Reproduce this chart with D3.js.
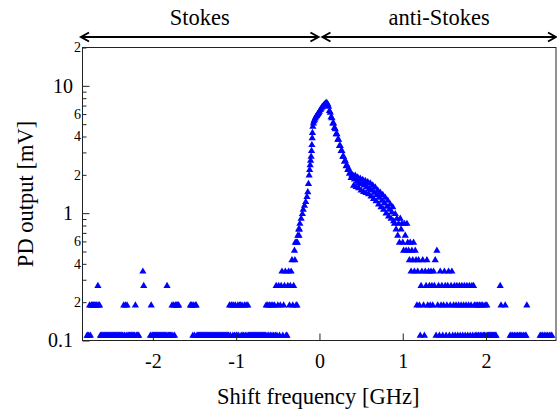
<!DOCTYPE html>
<html><head><meta charset="utf-8">
<script src="https://cdn.jsdelivr.net/npm/d3@7"></script>
<style>
body{margin:0;background:#fff}
svg{display:block}
</style>
</head><body>
<svg id="chart" width="557" height="414"></svg>
<script>
// ---- data ----
const shiftGHz = [
  // Stokes side noise floor
  -2.79,-2.78,-2.77,-2.76,-2.75,-2.74,-2.73,-2.72,-2.71,-2.70,-2.69,-2.68,-2.67,-2.66,-2.65,-2.64,-2.63,
  -2.62,-2.61,-2.60,-2.59,-2.58,-2.57,-2.56,-2.55,-2.54,-2.53,
  -2.52,-2.51,-2.50,-2.49,-2.48,-2.47,-2.46,-2.45,-2.44,-2.43,
  -2.42,-2.41,-2.40,-2.39,-2.38,-2.37,-2.36,-2.35,-2.34,-2.33,
  -2.32,-2.31,-2.30,-2.29,-2.28,-2.27,-2.26,-2.25,-2.24,-2.23,
  -2.22,-2.21,-2.20,-2.19,-2.18,-2.17,
  -2.12,-2.11,
  -2.03,-2.02,-2.01,-2.00,-1.99,-1.98,-1.97,-1.96,-1.95,-1.94,
  -1.93,-1.92,-1.91,-1.90,-1.89,-1.88,-1.87,-1.86,-1.85,-1.84,
  -1.83,-1.82,-1.81,-1.80,-1.79,-1.78,-1.77,-1.76,-1.75,-1.74,
  -1.73,-1.72,-1.71,-1.70,-1.69,
  -1.55,-1.54,-1.53,-1.52,-1.51,-1.50,-1.49,-1.48,-1.47,-1.46,
  -1.45,-1.44,-1.43,-1.42,-1.41,-1.40,-1.39,-1.38,-1.37,-1.36,
  -1.35,-1.34,-1.33,-1.32,-1.31,-1.30,-1.29,-1.28,-1.27,-1.26,
  -1.25,-1.24,-1.23,-1.22,-1.21,-1.20,-1.19,-1.18,-1.17,-1.16,
  -1.15,-1.14,-1.13,-1.12,-1.11,-1.10,-1.09,
  -1.08,-1.07,-1.06,-1.05,-1.04,-1.03,-1.02,-1.01,-1.00,-0.99,
  -0.98,-0.97,-0.96,-0.95,-0.94,-0.93,-0.92,-0.91,-0.90,-0.89,
  -0.88,-0.87,-0.86,
  -0.85,-0.84,-0.83,-0.82,-0.81,-0.80,-0.79,-0.78,-0.77,-0.76,
  -0.75,-0.74,-0.73,-0.72,-0.71,-0.70,-0.69,-0.68,-0.67,-0.66,
  -0.65,
  -0.64,-0.63,-0.62,-0.61,-0.60,-0.59,-0.58,-0.57,-0.56,-0.55,
  -0.54,-0.53,-0.52,-0.51,-0.50,-0.49,-0.48,-0.47,-0.46,-0.45,
  -0.44,-0.43,-0.42,-0.41,-0.40,-0.39,-0.38,-0.37,-0.36,-0.35,
  -0.34,-0.33,-0.32,-0.31,-0.30,-0.295,-0.29,-0.28,-0.275,-0.27,
  -0.265,-0.26,-0.25,-0.245,-0.24,
  // rising edge and peak
  -0.235,-0.22,-0.205,-0.195,-0.18,-0.165,-0.15,-0.14,-0.132,-0.124,
  -0.118,-0.112,-0.106,-0.1,-0.095,-0.091,-0.087,-0.084,-0.079,-0.072,
  -0.065,-0.058,-0.05,-0.042,-0.034,-0.026,-0.018,-0.01,0,0.01,
  0.02,0.03,0.04,0.05,0.06,0.07,0.08,0.09,
  // anti-Stokes tail
  0.10,0.11,0.12,0.13,0.14,0.15,0.16,0.17,0.18,0.19,
  0.20,0.21,0.22,0.23,0.24,0.25,0.26,0.27,0.28,0.29,
  0.30,0.31,0.32,0.33,0.34,0.35,0.36,0.37,0.38,0.39,
  0.40,0.41,0.42,0.43,0.44,0.45,0.46,0.47,0.48,0.49,
  0.50,0.51,0.52,0.53,0.54,0.55,0.56,0.57,0.58,0.59,
  0.60,0.61,0.62,0.63,0.64,0.65,0.66,0.67,0.68,0.69,
  0.70,0.71,0.72,0.73,0.74,0.75,0.76,0.77,0.78,0.79,
  0.80,0.81,0.82,0.83,0.84,0.85,0.86,0.87,0.88,0.89,
  0.90,0.91,0.92,0.93,0.94,0.95,0.96,0.97,0.98,0.99,
  1.00,1.01,1.02,1.03,1.04,1.05,1.06,1.07,1.08,1.09,
  1.10,1.11,1.12,1.13,1.14,1.15,1.16,1.17,1.18,1.19,
  1.20,
  1.21,1.22,1.23,1.24,1.25,1.26,1.27,1.28,1.29,1.30,
  1.31,1.32,1.33,1.34,1.35,1.36,1.37,1.38,1.39,1.40,
  1.41,1.42,1.43,1.44,1.45,1.46,1.47,1.48,1.49,1.50,
  1.51,1.52,1.53,1.54,1.55,1.56,1.57,1.58,1.59,1.60,
  1.61,1.62,1.63,1.64,1.65,1.66,1.67,1.68,1.69,1.70,
  1.71,1.72,1.73,1.74,1.75,1.76,1.77,1.78,1.79,1.80,
  1.81,1.82,1.83,1.84,1.85,1.86,1.87,1.88,1.89,1.90,
  1.91,1.92,1.93,1.94,1.95,1.96,1.97,1.98,1.99,2.00,
  2.01,2.02,2.03,2.04,2.05,2.06,2.07,2.08,2.09,2.10,
  2.11,2.12,
  2.17,2.18,2.23,
  2.29,2.30,2.32,2.34,2.36,2.38,2.40,2.41,2.43,2.45,2.47,2.48,
  2.49,
  2.65,2.66,2.68,2.70,2.72,2.74,2.76,2.78,2.79
];
const pdOutputMv = [
  .11,.11,.11,.19,.11,.19,.19,.19,.19,.19,.19,.19,.19,.27,.19,.19,.11,
  .11,.11,.11,.11,.11,.11,.11,.11,.11,.11,
  .11,.11,.11,.11,.11,.11,.11,.11,.11,.11,
  .11,.11,.11,.11,.11,.11,.11,.19,.11,.19,
  .11,.19,.11,.11,.11,.11,.11,.11,.11,.11,
  .11,.19,.11,.11,.11,.11,
  .35,.27,
  .11,.19,.11,.11,.11,.11,.11,.11,.11,.11,
  .11,.11,.11,.11,.11,.11,.11,.11,.11,.11,
  .27,.11,.11,.11,.11,.11,.19,.11,.19,.11,
  .19,.19,.19,.19,.19,
  .19,.19,.19,.11,.19,.11,.19,.19,.11,.11,
  .11,.11,.11,.11,.11,.11,.11,.11,.11,.11,
  .11,.11,.11,.11,.11,.11,.11,.11,.11,.11,
  .11,.11,.11,.11,.11,.11,.11,.11,.11,.11,
  .11,.11,.11,.11,.11,.11,.11,
  .19,.11,.19,.19,.11,.19,.11,.19,.11,.11,
  .19,.11,.19,.19,.11,.19,.11,.11,.19,.11,
  .19,.11,.19,
  .11,.11,.11,.11,.11,.11,.11,.11,.11,.11,
  .11,.11,.11,.11,.11,.11,.11,.11,.11,.11,
  .11,
  .19,.11,.19,.11,.19,.11,.19,.11,.19,.11,
  .19,.11,.27,.11,.19,.27,.11,.19,.27,.35,
  .11,.19,.27,.35,.11,.11,.27,.35,.19,.27,
  .35,.43,.19,.27,.51,.43,.59,.19,.59,.19,
  .59,.67,.75,.67,.75,
  .83,.91,.99,1.07,1.15,1.23,1.35,1.47,1.71,1.99,
  2.2,2.4,2.6,2.8,3.1,3.45,3.9,4.3,4.8,5.1,
  5.3,5.45,5.6,5.75,5.85,5.95,6.05,6.15,6.3,6.5,
  6.65,6.8,6.9,7.05,7.15,7.3,7.4,7.35,
  7.2,6.9,6.4,6.2,5.7,5.6,5.1,5.1,4.7,4.6,
  4.2,4.2,3.8,3.8,3.4,3.4,3.1,3.1,2.8,2.8,
  2.55,2.6,2.35,2.4,2.2,2.25,2.05,2.1,1.9,2.0,
  2.0,1.65,1.85,1.98,1.62,1.78,1.92,1.58,1.74,1.88,
  1.52,1.7,1.84,1.48,1.66,1.8,1.45,1.62,1.76,1.42,
  1.56,1.72,1.36,1.52,1.66,1.3,1.46,1.6,1.25,1.4,
  1.52,1.18,1.33,1.46,1.12,1.26,1.4,1.07,1.2,1.33,
  1.0,1.13,1.26,.95,1.07,1.18,.91,1.02,1.12,.87,
  .83,.99,.75,.91,.67,.83,.59,.91,.75,.83,
  .59,.51,.83,.67,.51,.83,.59,.51,.43,.59,
  .35,.51,.43,.59,.35,.51,.43,.19,.35,.43,
  .19,
  .11,.27,.35,.43,.19,.11,.35,.27,.43,.19,
  .35,.27,.19,.35,.27,.19,.35,.27,.43,.11,
  .51,.19,.27,.11,.35,.19,.27,.11,.19,.35,
  .27,.11,.19,.27,.35,.11,.19,.27,.35,.11,
  .19,.27,.11,.19,.27,.11,.19,.27,.11,.19,
  .27,.11,.19,.27,.11,.19,.27,.11,.19,.27,
  .11,.19,.27,.11,.27,.19,.11,.19,.11,.19,
  .11,.19,.11,.19,.11,.19,.11,.11,.19,.11,
  .19,.11,.11,.11,.11,.11,.11,.11,.11,.11,
  .11,.11,
  .27,.19,.19,
  .11,.11,.11,.11,.11,.11,.11,.11,.11,.11,.11,.11,
  .19,
  .11,.11,.11,.11,.11,.11,.11,.11,.11
];
const xTickValues = [-2, -1, 0, 1, 2];
const yMajorTicks = [0.1, 1, 10];
const yMinorTicks = [0.2,0.3,0.4,0.5,0.6,0.7,0.8,0.9,2,3,4,5,6,7,8,9,20];
const yMinorLabels = [0.2, 0.4, 0.6, 2, 4, 6, 20];
const regionNames = ["Stokes", "anti-Stokes"];
const xTitle = "Shift frequency [GHz]";
const yTitle = "PD output [mV]";

// ---- layout ----
const SERIF = '"Liberation Serif", "Times New Roman", Times, serif';
const L = 82.5, R = 556, T = 47.5, B = 340.5;
const svg = d3.select("#chart");
const x = d3.scaleLinear().domain([-2.845, 2.84]).range([L, R]);
const y = d3.scaleLog().domain([0.1, 20]).range([B, T]);

// data markers
const pts = shiftGHz.map((s, i) => ({s, v: pdOutputMv[i]}));
svg.append("clipPath").attr("id", "clip").append("rect")
  .attr("x", L).attr("y", T).attr("width", R - L).attr("height", B - T);
svg.append("g").attr("clip-path", "url(#clip)")
  .selectAll("path").data(pts).join("path")
  .attr("d", "M0,-3.8L3.6,2.4L-3.6,2.4Z")
  .attr("fill", "#0000ff")
  .attr("transform", d => `translate(${x(d.s)},${y(d.v)})`);

// axes
const gx = svg.append("g").attr("transform", `translate(0,${B})`)
  .call(d3.axisBottom(x).tickValues(xTickValues).tickSize(-7).tickPadding(13)
    .tickFormat(d => String(d)));
gx.select(".domain").remove();
gx.selectAll("text").style("font-size", "20px").style("font-family", SERIF).style("fill", "#000");

const gyMaj = svg.append("g").attr("transform", `translate(${L},0)`)
  .call(d3.axisLeft(y).tickValues(yMajorTicks).tickSize(-7).tickPadding(9.5)
    .tickFormat(d => String(d)));
gyMaj.select(".domain").remove();
gyMaj.selectAll("text").style("font-size", "20px").style("font-family", SERIF).style("fill", "#000");

const gyMin = svg.append("g").attr("transform", `translate(${L},0)`)
  .call(d3.axisLeft(y).tickValues(yMinorTicks).tickSize(-4).tickPadding(1.5)
    .tickFormat(d => yMinorLabels.includes(d) ? String(Math.round(d / Math.pow(10, Math.floor(Math.log10(d) + 1e-9)))) : ""));
gyMin.select(".domain").remove();
gyMin.selectAll("text").style("font-size", "14px").style("font-family", SERIF).style("fill", "#000");

svg.selectAll(".tick line").attr("stroke", "#222");

// frame
svg.append("rect").attr("x", L).attr("y", T).attr("width", R - L).attr("height", B - T)
  .attr("fill", "none").attr("stroke", "#222").attr("stroke-width", 1);

// titles
svg.append("text").attr("x", (L + R) / 2 - 1).attr("y", 404).attr("text-anchor", "middle")
  .style("font-size", "22.5px").style("font-family", SERIF).text(xTitle);
svg.append("text").attr("transform", `translate(33,${(T + B) / 2}) rotate(-90)`)
  .attr("text-anchor", "middle").style("font-size", "22.5px").style("font-family", SERIF).text(yTitle);

// Stokes / anti-Stokes arrows
const ay = 37;
const spans = [[x.range()[0] - 1.5, x(0) - 1], [x(0) + 3, x.range()[1]]];
spans.forEach(([a, b], i) => {
  svg.append("path")
    .attr("d", `M${a},${ay}H${b}M${a + 8},${ay - 4.5}L${a},${ay}L${a + 8},${ay + 4.5}M${b - 8},${ay - 4.5}L${b},${ay}L${b - 8},${ay + 4.5}`)
    .attr("fill", "none").attr("stroke", "#000").attr("stroke-width", 2);
  svg.append("text").attr("x", (a + b) / 2).attr("y", 25).attr("text-anchor", "middle")
    .style("font-size", "22.5px").style("font-family", SERIF).text(regionNames[i]);
});
</script>
</body></html>
